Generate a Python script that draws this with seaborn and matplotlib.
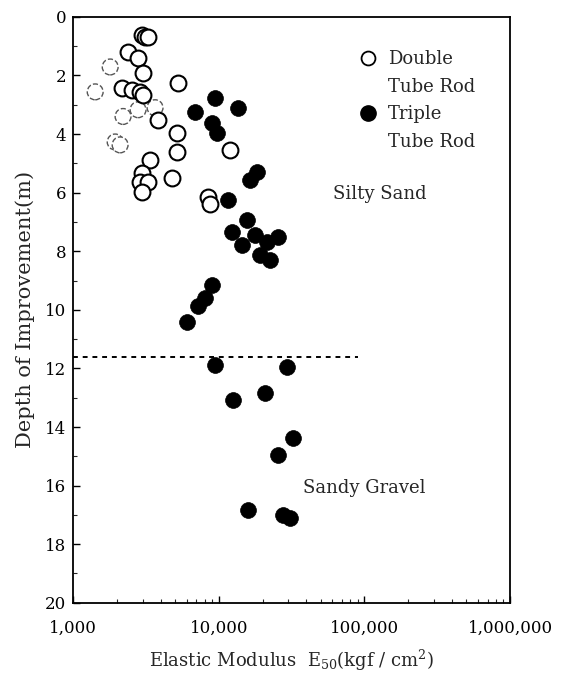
import matplotlib
matplotlib.use("Agg")
import matplotlib.pyplot as plt
import seaborn as sns
import pandas as pd
from matplotlib.lines import Line2D
from matplotlib.ticker import FixedLocator, FixedFormatter, LogLocator, NullFormatter, MultipleLocator

# ---- data (E50 in kgf/cm2, depth in m) ----
double_E = [2980, 3120, 3270, 2385, 2793, 3023, 2170, 2540, 2884, 3023, 5250,
            3830, 5170, 5170, 11960, 3375, 2977, 2880, 3270, 2977, 4780, 8450, 8700]
double_depth = [0.61, 0.68, 0.68, 1.19, 1.40, 1.91, 2.42, 2.49, 2.56, 2.66, 2.25,
                3.52, 3.96, 4.60, 4.54, 4.88, 5.32, 5.63, 5.63, 5.97, 5.50, 6.14, 6.40]

faint_E = [1795, 1416, 3650, 2790, 2200, 1942, 2100]
faint_depth = [1.71, 2.56, 3.10, 3.17, 3.40, 4.27, 4.37]

triple_E = [9430, 6880, 13570, 8990, 9730, 18320, 16400, 11580, 15640, 12340, 17750,
            14450, 25530, 21470, 19190, 22500, 8990, 8050, 7210, 6060, 9430, 29440,
            12540, 20790, 32360, 25530, 15890, 27620, 30850]
triple_depth = [2.76, 3.24, 3.10, 3.62, 3.96, 5.29, 5.56, 6.25, 6.93, 7.34, 7.44,
                7.78, 7.51, 7.68, 8.12, 8.29, 9.15, 9.59, 9.86, 10.40, 11.88, 11.94,
                13.07, 12.83, 14.37, 14.95, 16.83, 17.00, 17.10]

boundary_depth = 11.6
boundary_E = [1000, 90000]

x_ticks = [1000, 10000, 100000, 1000000]
x_labels = ["1,000", "10,000", "100,000", "1,000,000"]
y_ticks = [0, 2, 4, 6, 8, 10, 12, 14, 16, 18, 20]

df_double = pd.DataFrame({"E": double_E, "depth": double_depth})
df_faint = pd.DataFrame({"E": faint_E, "depth": faint_depth})
df_triple = pd.DataFrame({"E": triple_E, "depth": triple_depth})
df_line = pd.DataFrame({"E": boundary_E, "depth": [boundary_depth] * len(boundary_E)})

sns.set_theme(style="ticks")
plt.rcParams["font.family"] = ["DejaVu Serif"]
plt.rcParams["mathtext.fontset"] = "dejavuserif"

fig = plt.figure(figsize=(5.63, 6.75), dpi=100)
ax = fig.add_axes([0.130, 0.107, 0.776, 0.868])

S = 130
sns.scatterplot(data=df_faint, x="E", y="depth", ax=ax, s=S, marker="o",
                facecolor="white", edgecolor="#555555", linewidth=1.0,
                linestyle="--", zorder=2)
sns.scatterplot(data=df_double, x="E", y="depth", ax=ax, s=S, marker="o",
                facecolor="white", edgecolor="black", linewidth=1.5, zorder=3)
sns.scatterplot(data=df_triple, x="E", y="depth", ax=ax, s=S, marker="o",
                color="black", edgecolor="black", linewidth=0.5, zorder=4)
sns.lineplot(data=df_line, x="E", y="depth", ax=ax, color="black",
             linewidth=1.4, linestyle=(0, (2.5, 2.5)), zorder=1)

ax.set_xscale("log")
ax.set_xlim(1000, 1000000)
ax.set_ylim(20, 0)

ax.xaxis.set_major_locator(FixedLocator(x_ticks))
ax.xaxis.set_major_formatter(FixedFormatter(x_labels))
ax.xaxis.set_minor_locator(LogLocator(base=10, subs=range(2, 10)))
ax.xaxis.set_minor_formatter(NullFormatter())
ax.set_yticks(y_ticks)
ax.yaxis.set_minor_locator(MultipleLocator(1))

ax.tick_params(axis="both", which="major", direction="in", length=5, width=1,
               labelsize=12, colors="black")
ax.tick_params(axis="x", which="major", pad=12)
ax.tick_params(axis="y", which="major", pad=5)
ax.tick_params(axis="both", which="minor", direction="in", length=3, width=0.8)
for sp in ax.spines.values():
    sp.set_linewidth(1.3)
    sp.set_color("black")

ax.set_xlabel("Elastic Modulus  E$_{50}$(kgf / cm$^{2}$)", fontsize=13, labelpad=8)
ax.set_ylabel("Depth of Improvement(m)", fontsize=15, labelpad=7)

ax.text(0.595, 0.697, "Silty Sand", transform=ax.transAxes, fontsize=13,
        ha="left", va="center")
ax.text(0.525, 0.196, "Sandy Gravel", transform=ax.transAxes, fontsize=13,
        ha="left", va="center")

blank = Line2D([], [], linestyle="none", marker=None)
handles = [
    Line2D([], [], linestyle="none", marker="o", markersize=10,
           markerfacecolor="white", markeredgecolor="black", markeredgewidth=1.3),
    blank,
    Line2D([], [], linestyle="none", marker="o", markersize=11,
           markerfacecolor="black", markeredgecolor="black"),
    blank,
]
labels = ["Double", "Tube Rod", "Triple", "Tube Rod"]
ax.legend(handles, labels, loc="upper left", bbox_to_anchor=(0.638, 0.955),
          frameon=False, fontsize=13, handlelength=1.0, handletextpad=0.6,
          labelspacing=0.52, borderaxespad=0)

fig.savefig("out.png", dpi=100)
